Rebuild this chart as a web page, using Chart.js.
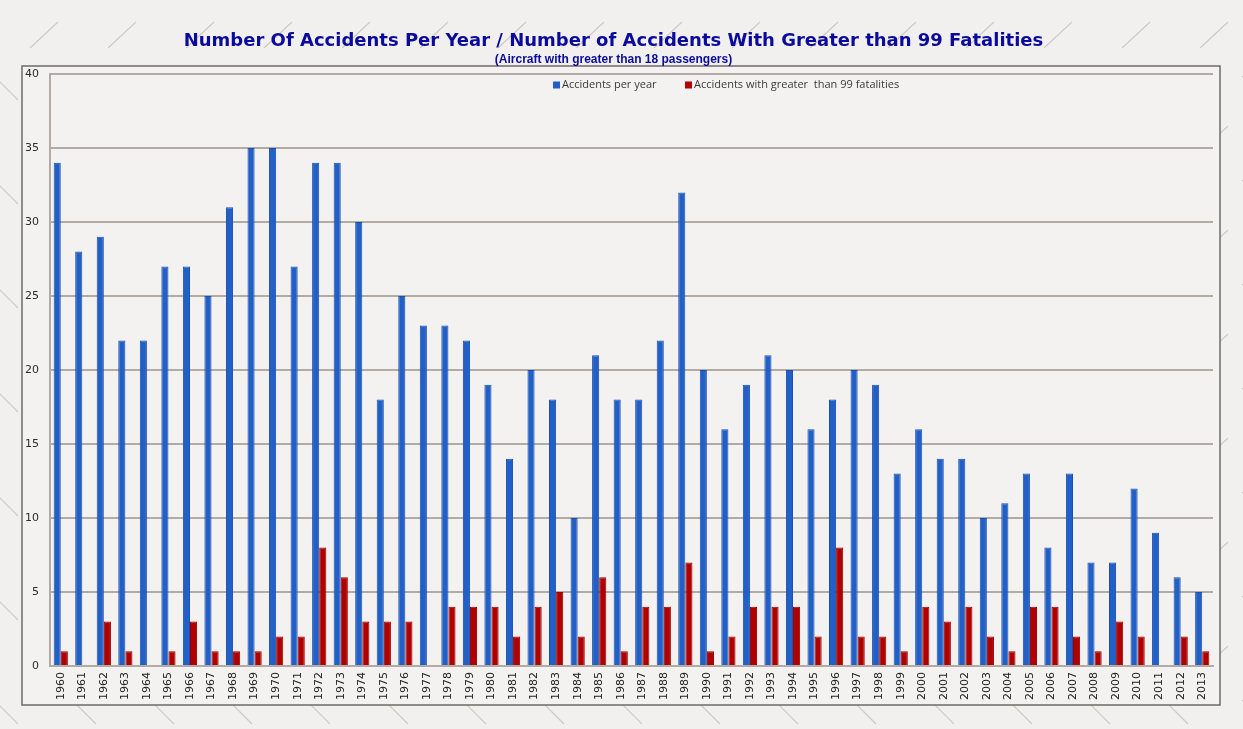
<!DOCTYPE html>
<html>
<head>
<meta charset="utf-8">
<title>Accidents per year</title>
<script src="https://cdn.jsdelivr.net/npm/chart.js@4"></script>
<style>
  html, body { margin: 0; padding: 0; }
  body {
    width: 1243px; height: 729px; overflow: hidden;
    background-color: #f1f0ee;
    background-image: url("data:image/svg+xml;utf8,<svg xmlns='http://www.w3.org/2000/svg' width='156' height='104'><g stroke='%23cdc9c4' stroke-width='1.1'><line x1='30' y1='48' x2='58' y2='22'/><line x1='108' y1='48' x2='136' y2='22'/><line x1='72' y1='76' x2='96' y2='100'/><line x1='150' y1='76' x2='174' y2='100'/><line x1='-6' y1='76' x2='18' y2='100'/></g></svg>");
  }
  canvas { display: block; }
</style>
</head>
<body>
<canvas id="barChart" width="1243" height="729"></canvas>
<script>
const years = ['1960','1961','1962','1963','1964','1965','1966','1967','1968','1969',
  '1970','1971','1972','1973','1974','1975','1976','1977','1978','1979',
  '1980','1981','1982','1983','1984','1985','1986','1987','1988','1989',
  '1990','1991','1992','1993','1994','1995','1996','1997','1998','1999',
  '2000','2001','2002','2003','2004','2005','2006','2007','2008','2009',
  '2010','2011','2012','2013']

const accidentsPerYear = [34,28,29,22,22,27,27,25,31,35,
  35,27,34,34,30,18,25,23,23,22,
  19,14,20,18,10,21,18,18,22,32,
  20,16,19,21,20,16,18,20,19,13,
  16,14,14,10,11,13,8,13,7,7,
  12,9,6,5]

const over99Fatalities = [1,0,3,1,0,1,3,1,1,1,
  2,2,8,6,3,3,3,0,4,4,
  4,2,4,5,2,6,1,4,4,7,
  1,2,4,4,4,2,8,2,2,1,
  4,3,4,2,1,4,4,2,1,3,
  2,0,2,1]

const yTicks = [0,5,10,15,20,25,30,35,40]

const gridColor = '#b2aba4'

// box around the plot, like the pasted excel chart
const frame = {
  id: 'frame',
  beforeDraw(chart) {
    const a = chart.chartArea
    const c = chart.ctx
    c.save()
    c.fillStyle = '#f3f2f0'
    c.fillRect(a.left - 28, a.top - 8, a.width + 35, a.height + 47)
    c.strokeStyle = '#6f6b67'
    c.lineWidth = 1.5
    c.strokeRect(a.left - 28, a.top - 8, a.width + 35, a.height + 47)
    c.restore()
  }
}

// legend sits inside the plot near the top
const innerLegend = {
  id: 'innerLegend',
  afterDraw(chart) {
    const c = chart.ctx
    const a = chart.chartArea
    let x = a.left + 503
    const y = a.top + 11
    c.save()
    c.font = '11px "Open Sans"'
    c.textBaseline = 'middle'
    chart.data.datasets.forEach(ds => {
      c.fillStyle = ds.backgroundColor
      c.fillRect(x, y - 3.5, 7, 7)
      c.fillStyle = '#3a3a3a'
      c.fillText(ds.label, x + 9, y)
      x += 132
    })
    c.restore()
  }
}

const data = {
  labels: years,
  datasets: [{
    label: 'Accidents per year',
    data: accidentsPerYear,
    backgroundColor: '#2260c8',
    borderColor: '#1a50ad',
    borderWidth: 1
  }, {
    label: 'Accidents with greater  than 99 fatalities',
    data: over99Fatalities,
    backgroundColor: '#b00000',
    borderColor: '#980000',
    borderWidth: 1
  }]
}

const ctx = document.getElementById('barChart').getContext('2d')

const myChart = new Chart(ctx, {
  type: 'bar',
  data: data,
  plugins: [frame, innerLegend],
  options: {
    responsive: false,
    animation: false,
    devicePixelRatio: 1,
    layout: { padding: { left: 14, right: 30, top: 28, bottom: 23 } },
    datasets: { bar: { categoryPercentage: 0.66, barPercentage: 1.0 } },
    plugins: {
      legend: { display: false },
      tooltip: { enabled: false },
      title: {
        display: true,
        text: 'Number Of Accidents Per Year / Number of Accidents With Greater than 99 Fatalities',
        color: '#0a0a9c',
        font: { family: '"DejaVu Sans"', size: 18, weight: 'bold' },
        padding: { top: 3, bottom: 0 }
      },
      subtitle: {
        display: true,
        text: '(Aircraft with greater than 18 passengers)',
        color: '#0a0a9c',
        font: { family: '"Liberation Sans"', size: 12, weight: 'bold' },
        padding: { top: 0, bottom: 7 }
      }
    },
    scales: {
      x: {
        grid: { display: false, drawTicks: false },
        border: { color: gridColor, width: 2 },
        ticks: {
          minRotation: 90,
          maxRotation: 90,
          autoSkip: false,
          padding: 6,
          color: '#222',
          font: { family: '"DejaVu Sans"', size: 11 }
        }
      },
      y: {
        min: 0,
        max: 40,
        afterBuildTicks(scale) {
          scale.ticks = yTicks.map(v => ({ value: v }))
        },
        grid: { color: gridColor, lineWidth: 2, drawTicks: false },
        border: { color: gridColor, width: 2 },
        ticks: {
          padding: 11,
          color: '#2b2b2b',
          font: { family: '"DejaVu Sans"', size: 11 }
        }
      }
    }
  }
})
</script>
</body>
</html>
